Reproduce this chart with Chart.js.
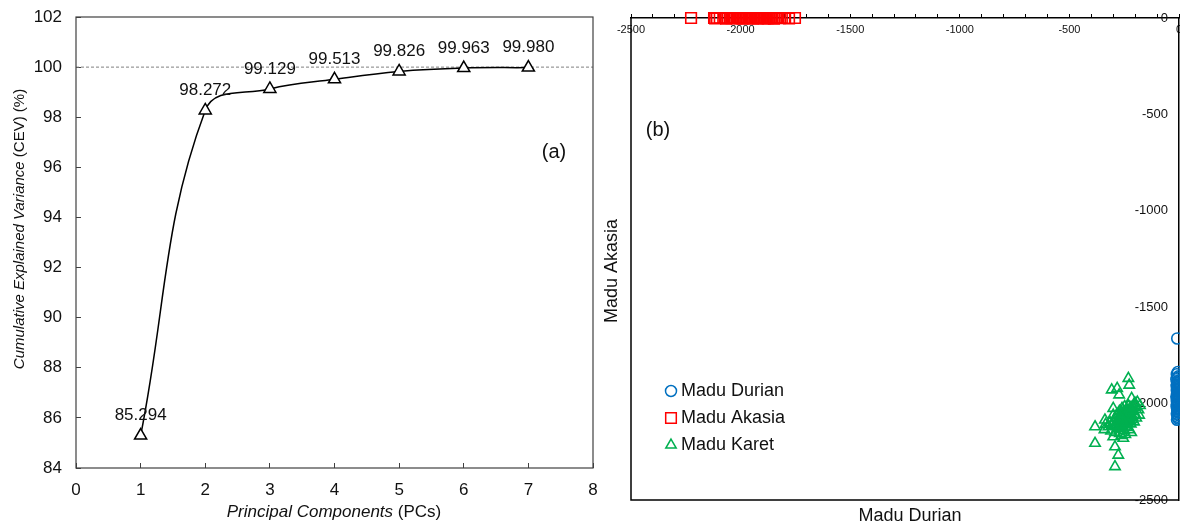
<!DOCTYPE html>
<html lang="en">
<head>
  <meta charset="UTF-8">
  <title>PCA CEV and class distances</title>
  <script src="https://cdn.jsdelivr.net/npm/chart.js@4"></script>
  <style>
    body { margin: 0; background: #fff; overflow: hidden; }
    #wrap { position: relative; width: 1180px; height: 526px; }
    canvas { position: absolute; top: 0; }
    #chartA { left: 0; }
    #chartB { left: 600px; }
  </style>
</head>
<body>
<div id="wrap">
  <canvas id="chartA" width="600" height="526"></canvas>
  <canvas id="chartB" width="580" height="526"></canvas>
</div>
<script>
  // panel (a): cumulative explained variance
  const pcs = [1, 2, 3, 4, 5, 6, 7];
  const cev = [85.294, 98.272, 99.129, 99.513, 99.826, 99.963, 99.980];
  const refLine = 100;

  // panel (b): class distances
  const durianX = [-8, -5, -10, -3, -7, -12, -4, -9, -6, -2, -11, -5, -8, -3, -10, -6, -1, -9, -4, -7,
    -12, -5, -2, -8, -10, -6, -3, -9, -4, -11, -7, -2, -5, -8, -6, -10, -3, -7, -4, -9, -5, -8, -6];
  const durianY = [-1662, -1836, -1848, -1859, -1867, -1874, -1882, -1889, -1895, -1901, -1908, -1914,
    -1920, -1926, -1931, -1937, -1942, -1948, -1953, -1959, -1964, -1970, -1975, -1981, -1986, -1992,
    -1997, -2003, -2009, -2014, -2020, -2026, -2032, -2038, -2045, -2052, -2060, -2068, -2077, -2084,
    -1905, -1958, -2011];

  const akasiaX = [-2226, -2121, -2116, -2108, -2079, -2066, -2058, -2049, -2041, -2035, -2027, -2019,
    -2012, -2004, -1998, -1991, -1985, -1978, -1970, -1963, -1957, -1950, -1944, -1936, -1929, -1921,
    -1915, -1908, -1902, -1895, -1889, -1882, -1876, -1869, -1862, -1855, -1848, -1839, -1832, -1820,
    -1812, -1797, -1779, -1752, -2095, -2003, -1960, -1925, -1890, -1871];
  const akasiaY = [0, 0, -2, 0, 0, -3, 0, 0, -1, 0, 0, -2, 0, 0, 0, -4, 0, 0, -1, 0, 0, 0, -3, 0, 0,
    -2, 0, 0, 0, -1, 0, 0, -2, 0, 0, 0, -3, 0, 0, -1, 0, 0, -2, 0, 0, -1, 0, 0, -2, 0];

  const karetX = [-231, -227, -307, -282, -273, -216, -383, -383, -300, -292, -277, -292, -254, -338,
    -300, -200, -190, -178, -185, -196, -205, -210, -200, -215, -222, -230, -236, -240, -225, -212,
    -246, -250, -258, -262, -268, -244, -232, -255, -272, -280, -286, -276, -266, -296, -305, -315,
    -322, -335, -340, -310, -292, -270, -250, -238, -220, -205, -195, -182, -260, -285, -248, -228,
    -262, -218, -245, -300, -240, -252, -265, -270, -258, -248, -238, -228, -232, -242, -252, -262,
    -275, -288, -280, -268, -256, -244, -235, -222, -212, -218, -208, -226, -262, -290, -300, -278];
  const karetY = [-1869, -1904, -1929, -1921, -1955, -1973, -2120, -2206, -2172, -2224, -2267, -2327,
    -2180, -2085, -2025, -1999, -1992, -2010, -2031, -2018, -2002, -2040, -2055, -2025, -2048, -2012,
    -2036, -2060, -2070, -2082, -2045, -2078, -2058, -2092, -2070, -2098, -2088, -2110, -2040, -2082,
    -2100, -2118, -2130, -2090, -2112, -2098, -2120, -2108, -2135, -2142, -2150, -2155, -2140, -2122,
    -2105, -2095, -2075, -2060, -2025, -2060, -2015, -2135, -2165, -2150, -2160, -2060, -2030, -2040,
    -2050, -2085, -2075, -2062, -2072, -2060, -2045, -2085, -2095, -2105, -2098, -2110, -2125, -2115,
    -2122, -2110, -2100, -2090, -2068, -2035, -2020, -2028, -2080, -2075, -2100, -2055];

  const FONT = "'Liberation Sans', Arial, sans-serif";
  Chart.defaults.font.family = FONT;
  Chart.defaults.color = '#111';

  function toPoints(xs, ys) {
    return xs.map((x, i) => ({ x: x, y: ys[i] }));
  }

  // fixed axis size, no extra room for edge labels
  function fixSize(w, h) {
    return function (s) {
      if (w !== null) s.width = w;
      if (h !== null) s.height = h;
      s.paddingLeft = s.paddingRight = s.paddingTop = s.paddingBottom = 0;
    };
  }

  // text with italic and upright parts, centred at cx, cy
  function richText(ctx, parts, size, cx, cy) {
    let total = 0;
    parts.forEach(p => {
      ctx.font = (p[1] ? 'italic ' : '') + size + 'px ' + FONT;
      total += ctx.measureText(p[0]).width;
    });
    let x = cx - total / 2;
    ctx.textAlign = 'left';
    ctx.textBaseline = 'middle';
    parts.forEach(p => {
      ctx.font = (p[1] ? 'italic ' : '') + size + 'px ' + FONT;
      ctx.fillText(p[0], x, cy);
      x += ctx.measureText(p[0]).width;
    });
  }

  const panelA = {
    id: 'panelA',
    beforeDatasetsDraw(chart) {
      const ctx = chart.ctx, a = chart.chartArea;
      const y = chart.scales.y.getPixelForValue(refLine);
      ctx.save();
      ctx.strokeStyle = '#808080';
      ctx.lineWidth = 1;
      ctx.setLineDash([3, 2]);
      ctx.beginPath();
      ctx.moveTo(a.left, y);
      ctx.lineTo(a.right, y);
      ctx.stroke();
      ctx.restore();
    },
    afterDraw(chart) {
      const ctx = chart.ctx, a = chart.chartArea;
      ctx.save();
      ctx.strokeStyle = '#404040';
      ctx.lineWidth = 1.2;
      ctx.strokeRect(a.left, a.top, a.right - a.left, a.bottom - a.top);

      ctx.fillStyle = '#111';
      ctx.font = '17px ' + FONT;
      ctx.textAlign = 'center';
      ctx.textBaseline = 'middle';
      chart.getDatasetMeta(0).data.forEach((pt, i) => {
        ctx.fillText(cev[i].toFixed(3), pt.x, pt.y - 20);
      });

      ctx.font = '20px ' + FONT;
      ctx.fillText('(a)', 554, 152);

      richText(ctx, [['Principal Components', true], [' (PCs)', false]], 17, 334, 512);
      ctx.translate(20, 229);
      ctx.rotate(-Math.PI / 2);
      richText(ctx, [['Cumulative Explained Variance', true], [' (CEV) (%)', false]], 15, 0, 0);
      ctx.restore();
    }
  };

  new Chart(document.getElementById('chartA'), {
    type: 'scatter',
    data: {
      datasets: [{
        data: toPoints(pcs, cev),
        showLine: true,
        tension: 0.4,
        borderColor: '#000',
        borderWidth: 1.5,
        pointStyle: 'triangle',
        pointRadius: 7,
        pointBackgroundColor: '#fff',
        pointBorderColor: '#000',
        pointBorderWidth: 1.5
      }]
    },
    options: {
      responsive: false,
      animation: false,
      devicePixelRatio: 1,
      layout: { autoPadding: false, padding: { left: 0, right: 7, top: 17, bottom: 0 } },
      plugins: { legend: { display: false }, tooltip: { enabled: false } },
      scales: {
        x: {
          type: 'linear', min: 0, max: 8,
          ticks: { stepSize: 1, padding: 17, font: { size: 17 }, color: '#111' },
          grid: { drawOnChartArea: false, tickLength: -5, color: '#404040' },
          border: { display: false },
          afterFit: fixSize(null, 58)
        },
        y: {
          min: 84, max: 102,
          ticks: { stepSize: 2, padding: 19, font: { size: 17 }, color: '#111' },
          grid: { drawOnChartArea: false, tickLength: -5, color: '#404040' },
          border: { display: false },
          afterFit: fixSize(76, null)
        }
      }
    },
    plugins: [panelA]
  });

  const panelB = {
    id: 'panelB',
    afterDraw(chart) {
      const ctx = chart.ctx, a = chart.chartArea;
      ctx.save();
      ctx.strokeStyle = '#000';
      ctx.lineWidth = 1.5;
      ctx.beginPath();
      ctx.moveTo(a.left, a.top);
      ctx.lineTo(a.left, a.bottom);
      ctx.lineTo(a.right, a.bottom);
      ctx.stroke();

      // legend
      const sizes = [5.5, 7.5, 6];
      chart.data.datasets.forEach((ds, i) => {
        const y = 391 + i * 27;
        ctx.strokeStyle = ds.borderColor;
        ctx.fillStyle = 'rgba(0,0,0,0)';
        Chart.helpers.drawPoint(ctx, { pointStyle: ds.pointStyle, radius: sizes[i], borderWidth: 1.8, rotation: 0 }, 71, y);
        ctx.fillStyle = '#111';
        ctx.font = '18px ' + FONT;
        ctx.textAlign = 'left';
        ctx.textBaseline = 'middle';
        ctx.fillText(ds.label, 81, y);
      });

      ctx.fillStyle = '#111';
      ctx.font = '20px ' + FONT;
      ctx.textAlign = 'center';
      ctx.fillText('(b)', 58, 130);
      ctx.font = '18px ' + FONT;
      ctx.fillText('Madu Durian', 310, 516);
      ctx.translate(12, 271);
      ctx.rotate(-Math.PI / 2);
      ctx.fillText('Madu Akasia', 0, 0);
      ctx.restore();
    }
  };

  new Chart(document.getElementById('chartB'), {
    type: 'scatter',
    data: {
      datasets: [
        { label: 'Madu Durian', data: toPoints(durianX, durianY), pointStyle: 'circle', pointRadius: 5.5,
          borderColor: '#0070c0', backgroundColor: 'rgba(0,0,0,0)', pointBorderWidth: 1.6, clip: false },
        { label: 'Madu Akasia', data: toPoints(akasiaX, akasiaY), pointStyle: 'rect', pointRadius: 7.5,
          borderColor: '#ff0000', backgroundColor: 'rgba(0,0,0,0)', pointBorderWidth: 1.6, clip: false },
        { label: 'Madu Karet', data: toPoints(karetX, karetY), pointStyle: 'triangle', pointRadius: 6,
          borderColor: '#00b050', backgroundColor: 'rgba(0,0,0,0)', pointBorderWidth: 1.6, clip: false }
      ]
    },
    options: {
      responsive: false,
      animation: false,
      devicePixelRatio: 1,
      layout: { autoPadding: false, padding: { left: 31, right: 1, top: 18, bottom: 26 } },
      plugins: { legend: { display: false }, tooltip: { enabled: false } },
      scales: {
        x: {
          type: 'linear', position: 'top', min: -2500, max: 0,
          ticks: {
            stepSize: 100, autoSkip: false, maxRotation: 0, mirror: true, padding: 5, font: { size: 11 }, color: '#111',
            callback: v => (Math.round(v) % 500 === 0 ? String(Math.round(v)) : '')
          },
          grid: { drawOnChartArea: false, tickLength: 4, color: '#000' },
          border: { color: '#000', width: 1.5 },
          afterFit: fixSize(null, 0)
        },
        y: {
          type: 'linear', position: 'right', min: -2500, max: 0,
          ticks: { stepSize: 500, mirror: true, padding: -11, font: { size: 13 }, color: '#111',
            callback: v => String(Math.round(v)) },
          grid: { drawOnChartArea: false, drawTicks: false },
          border: { color: '#000', width: 1.5 },
          afterFit: fixSize(0, null)
        }
      }
    },
    plugins: [panelB]
  });
</script>
</body>
</html>
